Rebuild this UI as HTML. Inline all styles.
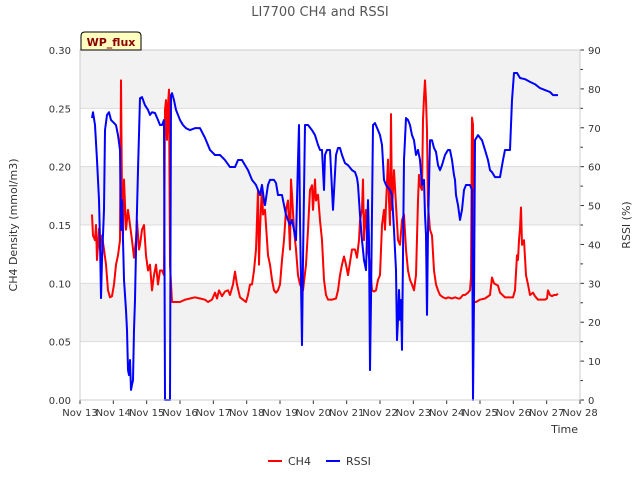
<!DOCTYPE html>
<html><head><meta charset="utf-8"><style>
body{margin:0;background:#fff;font-family:"Liberation Sans","DejaVu Sans",sans-serif;}
svg text{font-family:"DejaVu Sans","Liberation Sans",sans-serif;}
</style></head><body>
<svg id="chart" width="640" height="480" viewBox="0 0 640 480" xmlns="http://www.w3.org/2000/svg">
<text x="320" y="16" text-anchor="middle" font-size="13" fill="#555">LI7700 CH4 and RSSI</text>
<g id="bands"></g>
<g id="grid"></g>
<g id="series"></g>
<g id="axes"></g>
<g>
<path d="M81,50 L81,36 Q81,32 85,32 L137,32 Q141,32 141,36 L141,50 Z" fill="#ffffc0" stroke="#000" stroke-width="1"/>
<text x="111" y="46" text-anchor="middle" font-size="11" font-weight="bold" fill="#8b0000">WP_flux</text>
</g>
<text transform="translate(17,225) rotate(-90)" text-anchor="middle" font-size="11" fill="#333">CH4 Density (mmol/m3)</text>
<text transform="translate(630,225) rotate(-90)" text-anchor="middle" font-size="11" fill="#333">RSSI (%)</text>
<text x="578" y="433" text-anchor="end" font-size="11" fill="#333">Time</text>
<g>
<g><line x1="268" y1="461" x2="282" y2="461" stroke="#f00" stroke-width="2"/><text x="288" y="465" font-size="11" fill="#333">CH4</text></g>
<g><line x1="326" y1="461" x2="340" y2="461" stroke="#00f" stroke-width="2"/><text x="346" y="465" font-size="11" fill="#333">RSSI</text></g>
</g>
</svg>
<script>
const xTickLabels=["Nov 13","Nov 14","Nov 15","Nov 16","Nov 17","Nov 18","Nov 19","Nov 20","Nov 21","Nov 22","Nov 23","Nov 24","Nov 25","Nov 26","Nov 27","Nov 28"];
const leftTicks=[0,0.05,0.10,0.15,0.20,0.25,0.30];
const rightTicks=[0,10,20,30,40,50,60,70,80,90];
const ch4Days=[.36,.39,.45,.48,.51,.54,.57,.60,.63,.66,.72,.78,.84,.90,.96,1.02,1.08,1.14,1.20,1.23,1.26,1.29,1.32,1.38,1.44,1.50,1.56,1.62,1.68,1.71,1.77,1.80,1.86,1.92,1.98,2.04,2.10,2.16,2.22,2.28,2.34,2.40,2.46,2.52,2.55,2.58,2.61,2.64,2.67,2.70,2.76,2.85,3.00,3.15,3.30,3.45,3.60,3.75,3.84,3.96,4.05,4.11,4.17,4.26,4.35,4.44,4.50,4.59,4.65,4.71,4.80,4.89,4.98,5.04,5.10,5.16,5.22,5.28,5.31,5.34,5.37,5.40,5.46,5.49,5.55,5.64,5.70,5.76,5.82,5.88,5.94,6.00,6.06,6.12,6.18,6.24,6.30,6.33,6.36,6.42,6.48,6.54,6.60,6.69,6.78,6.84,6.90,6.96,6.99,7.05,7.08,7.14,7.20,7.26,7.32,7.38,7.44,7.56,7.68,7.74,7.80,7.86,7.92,7.98,8.04,8.10,8.16,8.25,8.31,8.37,8.40,8.46,8.49,8.52,8.58,8.61,8.64,8.70,8.76,8.82,8.88,8.94,9.00,9.06,9.12,9.15,9.18,9.24,9.27,9.30,9.33,9.36,9.42,9.48,9.54,9.60,9.66,9.72,9.78,9.84,9.90,9.96,10.02,10.08,10.14,10.17,10.20,10.26,10.29,10.32,10.35,10.38,10.41,10.44,10.50,10.56,10.62,10.68,10.74,10.80,10.89,10.98,11.04,11.16,11.25,11.34,11.40,11.49,11.55,11.64,11.70,11.73,11.76,11.79,11.82,11.88,12.00,12.15,12.30,12.36,12.42,12.48,12.54,12.60,12.75,12.90,12.99,13.05,13.11,13.14,13.17,13.20,13.23,13.26,13.32,13.38,13.44,13.50,13.59,13.65,13.74,13.86,13.95,14.01,14.04,14.10,14.16,14.22,14.28,14.34];
const ch4Values=[.159,.141,.137,.150,.120,.133,.147,.129,.137,.141,.129,.116,.094,.088,.089,.099,.116,.124,.137,.274,.171,.141,.189,.146,.163,.150,.137,.122,.137,.154,.129,.133,.146,.150,.124,.111,.116,.094,.107,.116,.099,.111,.111,.107,.249,.257,.223,.253,.266,.116,.084,.084,.084,.086,.087,.088,.087,.086,.084,.086,.092,.087,.094,.089,.093,.094,.090,.099,.110,.099,.088,.086,.084,.090,.099,.099,.111,.129,.154,.180,.116,.146,.184,.159,.163,.124,.116,.103,.094,.092,.094,.099,.120,.137,.163,.171,.129,.189,.176,.146,.129,.107,.099,.094,.116,.146,.180,.184,.163,.189,.171,.176,.154,.137,.103,.090,.086,.086,.087,.094,.107,.116,.123,.116,.107,.118,.129,.129,.122,.137,.154,.163,.189,.137,.163,.146,.129,.116,.094,.093,.094,.103,.107,.150,.163,.146,.167,.206,.171,.150,.245,.163,.197,.167,.137,.133,.154,.159,.129,.111,.103,.099,.094,.107,.171,.193,.184,.180,.240,.259,.274,.257,.231,.167,.146,.141,.111,.099,.094,.090,.088,.087,.088,.087,.088,.087,.087,.090,.090,.092,.094,.105,.242,.236,.084,.084,.086,.087,.090,.105,.100,.099,.098,.092,.088,.088,.088,.094,.124,.120,.137,.147,.165,.133,.137,.107,.099,.090,.092,.089,.086,.086,.086,.087,.094,.090,.089,.090,.090,.091];
const rssiDays=[.36,.39,.45,.51,.57,.60,.63,.66,.72,.75,.81,.87,.93,.99,1.08,1.14,1.20,1.23,1.26,1.32,1.38,1.41,1.44,1.47,1.50,1.53,1.56,1.59,1.62,1.65,1.68,1.74,1.80,1.86,1.95,2.04,2.10,2.16,2.25,2.34,2.40,2.46,2.52,2.55,2.64,2.70,2.73,2.76,2.82,2.88,2.94,3.00,3.09,3.18,3.30,3.45,3.60,3.75,3.90,4.05,4.20,4.35,4.50,4.65,4.74,4.86,4.95,5.04,5.16,5.28,5.34,5.40,5.46,5.52,5.55,5.64,5.70,5.82,5.88,5.94,6.06,6.09,6.18,6.30,6.36,6.42,6.48,6.54,6.57,6.60,6.66,6.69,6.75,6.84,6.96,7.05,7.14,7.20,7.26,7.32,7.35,7.41,7.50,7.59,7.68,7.74,7.80,7.86,7.95,8.04,8.16,8.25,8.31,8.34,8.40,8.46,8.52,8.58,8.64,8.67,8.70,8.73,8.79,8.85,8.94,9.00,9.06,9.12,9.18,9.30,9.36,9.42,9.48,9.51,9.54,9.57,9.60,9.63,9.66,9.72,9.78,9.84,9.90,9.96,10.02,10.08,10.14,10.20,10.26,10.32,10.35,10.38,10.41,10.44,10.50,10.56,10.62,10.68,10.74,10.80,10.86,10.95,11.04,11.10,11.16,11.22,11.25,11.28,11.34,11.40,11.46,11.52,11.58,11.70,11.76,11.79,11.82,11.85,11.94,12.06,12.15,12.24,12.30,12.36,12.45,12.60,12.69,12.75,12.90,12.96,13.02,13.11,13.20,13.35,13.50,13.65,13.80,13.95,14.10,14.19,14.34];
const rssiValues=[72.5,74.0,70.7,61.7,51.4,41.1,26.2,36.0,48.9,69.4,73.3,74.0,72.0,71.5,70.7,68.1,64.3,43.7,51.4,30.9,23.1,18.0,7.7,6.4,10.3,2.6,3.9,5.1,18.0,25.7,38.6,59.1,77.6,77.9,75.8,74.6,73.3,74.0,73.8,72.0,70.7,70.7,72.0,0,0,0,78.4,78.9,77.1,74.6,73.3,72.0,70.7,69.9,69.4,69.9,69.9,67.4,64.3,63.0,63.0,61.7,59.9,59.9,61.7,61.7,60.4,59.1,56.6,55.3,54.0,52.7,55.3,51.4,50.1,55.3,56.6,56.6,55.8,52.7,52.7,51.4,47.6,45.0,46.3,43.7,41.1,61.7,70.7,46.3,14.1,36.0,70.7,70.7,69.4,68.1,65.6,64.3,64.3,54.0,63.0,64.3,64.3,48.9,63.0,64.8,64.8,63.0,60.9,60.4,59.1,58.6,57.1,55.3,47.6,41.1,36.0,33.4,51.4,41.1,7.7,25.7,70.7,71.2,69.4,68.1,65.6,56.6,55.3,54.0,52.7,43.7,33.4,15.4,20.6,28.3,20.6,25.7,12.9,61.7,72.5,72.0,70.7,68.1,66.8,63.0,64.3,61.7,55.3,56.6,47.6,42.4,21.9,43.7,66.8,66.8,64.8,63.8,60.4,59.1,60.4,63.0,64.3,64.3,61.7,57.8,56.6,52.7,50.1,46.3,48.9,54.0,55.3,55.3,54.0,0,25.7,66.8,68.1,66.8,64.3,61.7,59.1,58.6,57.3,57.3,61.7,64.3,64.3,77.1,84.1,84.1,82.8,82.5,81.8,81.2,80.2,79.7,79.2,78.4,78.4];

const NS="http://www.w3.org/2000/svg";
const L=80,R=580,T=50,B=400;
const xs=d=>L+d*(R-L)/15;
const yL=v=>B-v/0.30*(B-T);
const yR=v=>B-v/90*(B-T);
function mk(tag,attrs,parent){const e=document.createElementNS(NS,tag);for(const k in attrs)e.setAttribute(k,attrs[k]);parent.appendChild(e);return e;}
const bands=document.getElementById('bands'),grid=document.getElementById('grid'),axes=document.getElementById('axes'),series=document.getElementById('series');
mk('rect',{x:L,y:T,width:R-L,height:B-T,fill:'#fff'},bands);
for(let i=0;i<leftTicks.length-1;i++){
  if(i%2===1){const b=mk('rect',{x:L,y:yL(leftTicks[i+1]),width:R-L,height:yL(leftTicks[i])-yL(leftTicks[i+1]),fill:'#f2f2f2'},bands);
  
  }
}
leftTicks.forEach(v=>{
  const g=mk('line',{x1:L,x2:R,y1:yL(v),y2:yL(v),stroke:'#dcdcdc','stroke-width':1},grid);
  
  
  const t=mk('text',{x:L-9,y:yL(v)+4,'text-anchor':'end','font-size':10,fill:'#333'},axes);
  t.textContent=v.toFixed(2);
  
  
});
rightTicks.forEach(v=>{
  const t=mk('text',{x:R+8,y:yR(v)+4,'font-size':10,fill:'#333'},axes);
  t.textContent=v;
  
  
  mk('line',{x1:R,x2:R+4,y1:yR(v),y2:yR(v),stroke:'#333'},axes);
  if(v<90)mk('line',{x1:R,x2:R+3,y1:yR(v+5),y2:yR(v+5),stroke:'#333'},axes);
});
xTickLabels.forEach((s,i)=>{
  const t=mk('text',{x:xs(i),y:B+16,'text-anchor':'middle','font-size':10,fill:'#333'},axes);
  t.textContent=s;
  
  
  mk('line',{x1:xs(i),x2:xs(i),y1:B,y2:B+4,stroke:'#333'},axes);
});
mk('rect',{x:L,y:T,width:R-L,height:B-T,fill:'none',stroke:'#ccc'},axes);
const ch4=mk('polyline',{points:ch4Days.map((d,i)=>xs(d)+','+yL(ch4Values[i])).join(' '),fill:'none',stroke:'#f00','stroke-width':2,'stroke-linejoin':'round'},series);


const rs=mk('polyline',{points:rssiDays.map((d,i)=>xs(d)+','+yR(rssiValues[i])).join(' '),fill:'none',stroke:'#00f','stroke-width':2,'stroke-linejoin':'round'},series);


</script>
</body></html>
